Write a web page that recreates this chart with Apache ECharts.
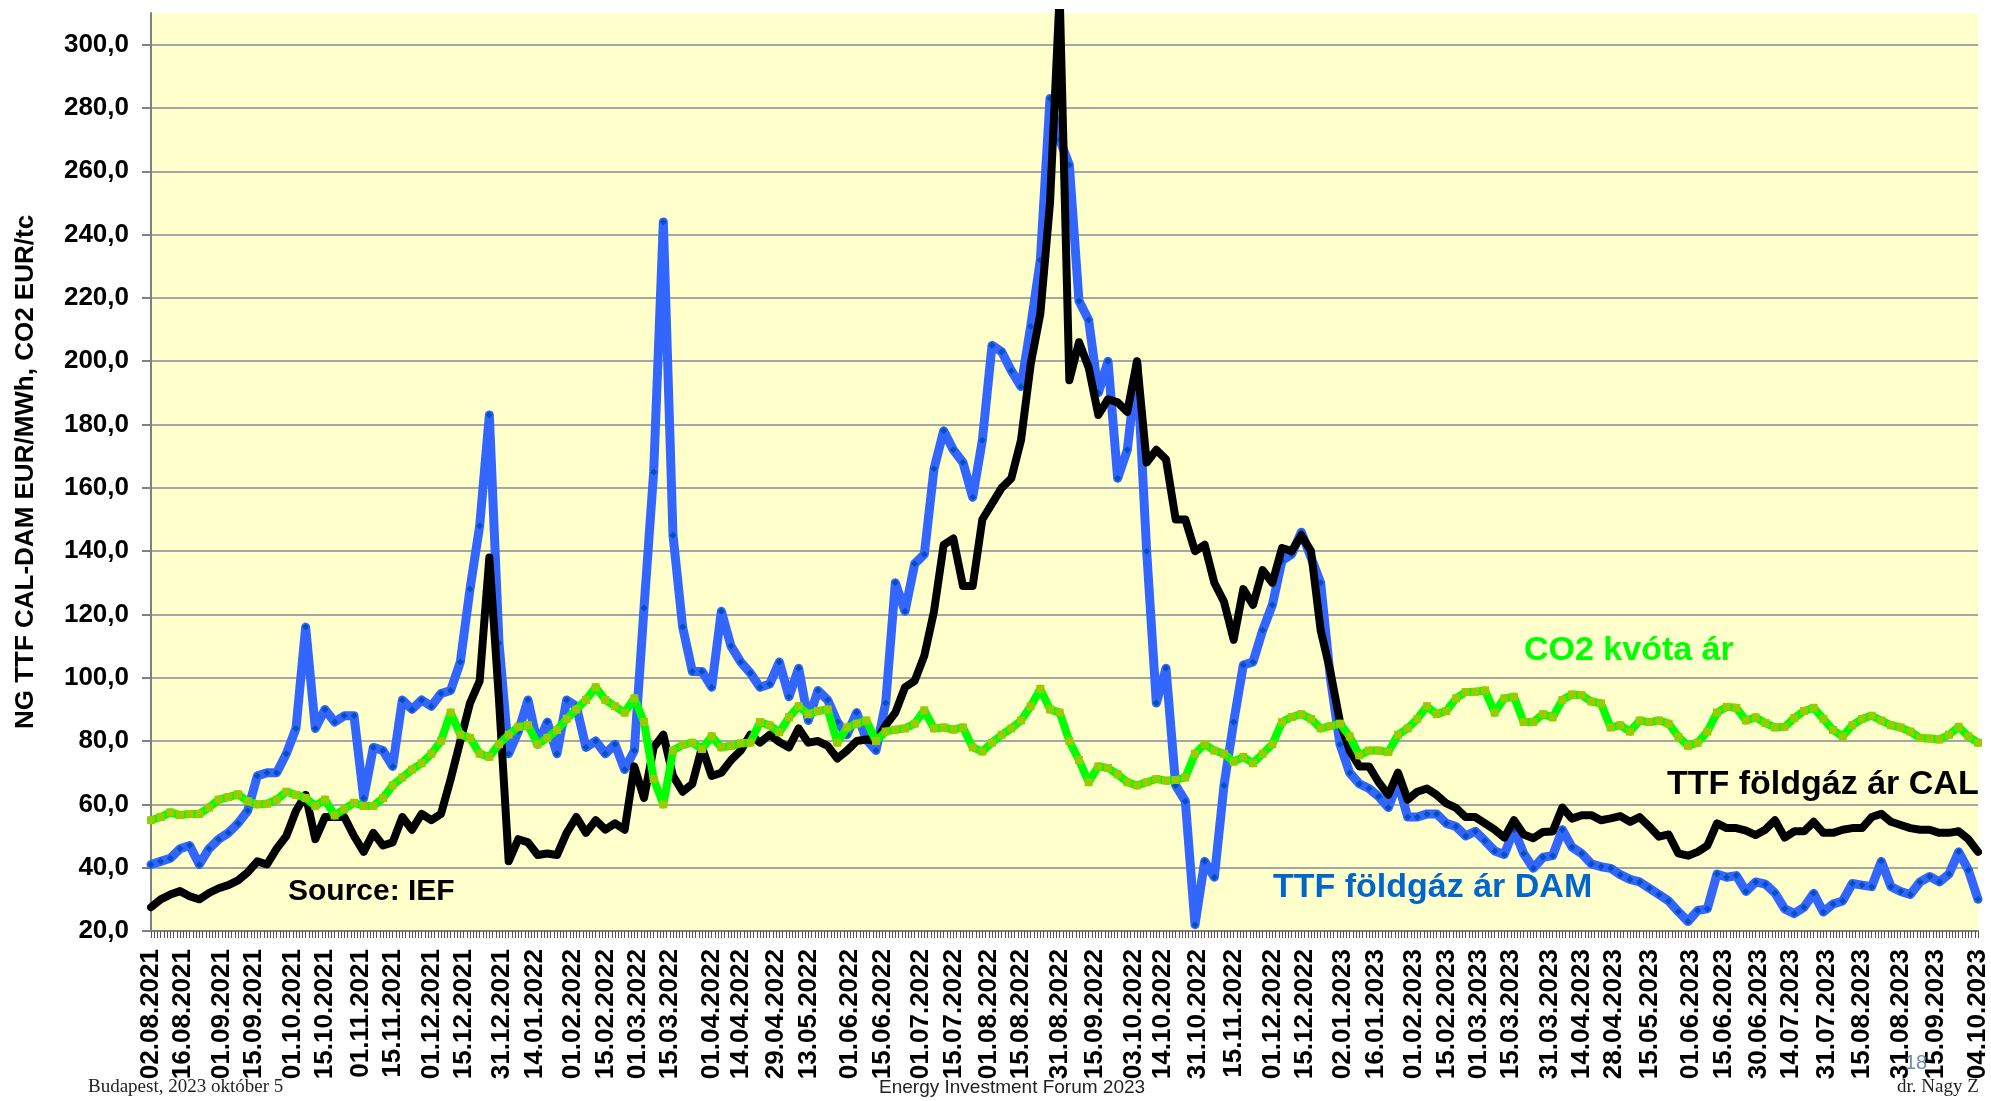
<!DOCTYPE html>
<html>
<head>
<meta charset="utf-8">
<title>TTF földgáz ár / CO2 kvóta ár</title>
<script src="https://cdn.jsdelivr.net/npm/echarts@6/dist/echarts.min.js"></script>
<style>
  html, body { margin: 0; padding: 0; background: #fff; }
  #chart { width: 1991px; height: 1101px; }
</style>
</head>
<body>
<div id="chart"></div>
<script>
// trading days 02.08.2021 .. 04.10.2023, values every 3rd trading day
const STEP = 3;
const firstDay = new Date(2021, 7, 2);
const lastDay = new Date(2023, 9, 4);

const tickLabels = [
  '02.08.2021', '16.08.2021', '01.09.2021', '15.09.2021', '01.10.2021', '15.10.2021',
  '01.11.2021', '15.11.2021', '01.12.2021', '15.12.2021', '31.12.2021', '14.01.2022',
  '01.02.2022', '15.02.2022', '01.03.2022', '15.03.2022', '01.04.2022', '14.04.2022',
  '29.04.2022', '13.05.2022', '01.06.2022', '15.06.2022', '01.07.2022', '15.07.2022',
  '01.08.2022', '15.08.2022', '31.08.2022', '15.09.2022', '03.10.2022', '14.10.2022',
  '31.10.2022', '15.11.2022', '01.12.2022', '15.12.2022', '02.01.2023', '16.01.2023',
  '01.02.2023', '15.02.2023', '01.03.2023', '15.03.2023', '31.03.2023', '14.04.2023',
  '28.04.2023', '15.05.2023', '01.06.2023', '15.06.2023', '30.06.2023', '14.07.2023',
  '31.07.2023', '15.08.2023', '31.08.2023', '15.09.2023', '04.10.2023'
];

// TTF day-ahead (DAM), EUR/MWh
const damValues = [
  41, 42, 43, 46, 47, 41, 46, 49, 51, 54,
  58, 69, 70, 70, 76, 84, 116, 84, 90, 86,
  88, 88, 62, 78, 77, 72, 93, 90, 93, 91,
  95, 96, 105, 128, 148, 183, 111, 76, 83, 93,
  79, 86, 76, 93, 91, 78, 80, 76, 79, 71,
  77, 122, 165, 244, 145, 116, 102, 102, 97, 121,
  110, 105, 101.5, 97, 98, 105, 94, 103, 86.5, 96,
  93, 86, 82, 89, 80.5, 77, 92, 130, 121, 136,
  139, 166, 178, 172, 168, 157, 175, 205, 203, 197,
  192, 211, 232, 283, 270, 262, 219, 213, 190, 200,
  163, 172, 199, 140, 92, 103, 66, 61, 22, 42,
  37, 66, 86, 104, 105, 115, 123, 137, 139, 146,
  138, 130, 100, 79, 70, 66.5, 65, 62.5, 59, 67,
  56, 56, 57, 57, 54, 53, 50, 51.5, 48.5, 45.3,
  44.2, 52, 44.5, 39.8, 43.3, 43.8, 52, 46.5, 44.5, 41.2,
  40.3, 39.8, 37.8, 36.3, 35.5, 33.5, 31.5, 29.5, 26.1, 23,
  26.5, 27, 38, 37, 37.5, 32.5, 35.5, 34.8, 32, 27,
  25.5, 27.5, 31.9, 26, 28.5, 29.5, 35, 34.5, 34, 42,
  34, 32.5, 31.5, 35.5, 37.2, 35.5, 38, 45, 39.3, 30
];

// TTF calendar (CAL), EUR/MWh
const calValues = [
  27.5, 30, 31.5, 32.6, 31, 30, 32, 33.5, 34.5, 36,
  38.5, 42, 41, 46, 50, 58, 63, 49, 56, 56,
  56, 50, 45, 51, 47, 48, 56, 52, 57, 55,
  57, 68, 80, 92, 99, 138, 93, 42, 49, 48,
  44, 44.5, 44, 51, 56, 51, 55, 52, 54, 52,
  72, 62, 78, 82, 69, 64, 66.5, 78, 69, 70,
  74, 77, 82, 79.5, 82, 79.7, 78, 84, 79.5, 80,
  78.5, 74.5, 77, 80, 80.5, 80, 85, 89, 97, 99,
  107, 121, 142, 144, 129, 129, 150, 155, 160, 163,
  175, 199, 215, 250, 316, 194, 206, 198, 183, 188,
  187, 184, 200, 168, 172, 169, 150, 150, 140, 142,
  130, 124, 112, 128, 123, 134, 130, 141, 140, 145,
  140, 115, 102, 86, 77, 72, 72, 67, 63, 70,
  61.5, 64, 65, 63, 60.3, 58.9, 56, 56, 54, 52,
  49.5, 55, 50.5, 49.3, 51.3, 51.4, 59, 55.5, 56.6, 56.6,
  55, 55.6, 56.3, 54.5, 56, 53, 49.8, 50.5, 44.5, 43.8,
  45, 47, 54, 52.5, 52.5, 51.7, 50.3, 52, 55, 49.5,
  51.5, 51.5, 54.5, 51, 51, 52, 52.5, 52.5, 56, 57,
  54.5, 53.5, 52.5, 52, 52, 51, 51, 51.5, 49, 45
];

// CO2 allowance, EUR/t
const co2Values = [
  55, 56, 57.5, 56.6, 57, 57, 59, 61.5, 62.3, 63.2,
  61, 60, 60.2, 61.5, 64, 63, 62, 59.5, 61.5, 56.5,
  58.5, 60.5, 59.5, 59.5, 62, 66, 68.5, 71, 73, 76,
  80, 89, 82, 81, 76, 75, 79, 82, 84.5, 85,
  79, 81, 83.5, 87, 90, 93, 97, 93, 91, 89,
  93.5, 86, 68, 60, 77, 78.8, 79.5, 77.5, 81.5, 78,
  78.5, 79.3, 79.5, 86, 85, 82.8, 87.5, 91, 88.5, 89.5,
  90, 79.5, 84.3, 85.5, 86.5, 80, 83, 83.6, 84, 85.5,
  89.7, 84, 84.3, 83.6, 84.3, 78, 76.7, 79.5, 82, 84,
  86.5, 91, 96.5, 90, 89, 80, 74, 67, 72, 71.5,
  69.5, 67, 66, 67, 68, 67.5, 67.7, 68.5, 76, 79,
  77, 76, 73.5, 75, 73, 76, 79, 86, 87.6, 88.5,
  87, 84, 84.7, 85.5, 81.5, 75.5, 77, 77, 76.5, 82,
  84, 87, 91, 88.5, 89.5, 93.5, 95.5, 95.6, 96, 89,
  93.5, 94, 86, 86, 88.5, 87.5, 93, 94.7, 94.5, 92.5,
  91.9, 84.3, 85, 83, 86.5, 86, 86.5, 85.5, 81.4, 78.5,
  79.5, 83, 89, 90.8, 90.5, 86.5, 87.5, 85.7, 84.3, 84.5,
  87.3, 89.5, 90.5, 87, 83.5, 81.5, 85, 87, 88, 86.5,
  85, 84.3, 83, 81, 80.8, 80.5, 82, 84.5, 81.5, 79.5
];

const SANS = '"Liberation Sans", Arial, sans-serif';
const SERIF = '"Liberation Serif", "Times New Roman", serif';

const pad = n => (n < 10 ? '0' : '') + n;
const tradingDays = [];
for (let d = new Date(firstDay); d <= lastDay; d.setDate(d.getDate() + 1)) {
  const wd = d.getDay();
  if (wd === 0 || wd === 6) continue;
  tradingDays.push(pad(d.getDate()) + '.' + pad(d.getMonth() + 1) + '.' + d.getFullYear());
}
const labelSet = new Set(tickLabels);
const toSeries = vals => vals.map((v, i) => [tradingDays[i * STEP], v]);

const chart = echarts.init(document.getElementById('chart'));
chart.setOption({
  animation: false,
  backgroundColor: '#ffffff',
  grid: {
    left: 151, top: 13, right: 8, bottom: 170,
    show: true, backgroundColor: '#FFFFCC', borderWidth: 0
  },
  xAxis: {
    type: 'category',
    data: tradingDays,
    boundaryGap: false,
    axisLine: { lineStyle: { color: '#808080', width: 2 } },
    axisTick: { interval: 0, length: 7, lineStyle: { color: '#555555', width: 1 } },
    axisLabel: {
      interval: (idx, val) => labelSet.has(val),
      rotate: 90,
      margin: 18,
      fontSize: 26,
      fontWeight: 'bold',
      fontFamily: SANS,
      color: '#000'
    },
    splitLine: { show: false }
  },
  yAxis: {
    type: 'value',
    min: 20,
    max: 310,
    interval: 20,
    name: 'NG TTF CAL-DAM EUR/MWh, CO2 EUR/tc',
    nameLocation: 'middle',
    nameGap: 112,
    nameTextStyle: { fontSize: 26, fontWeight: 'bold', fontFamily: SANS, color: '#000' },
    axisLine: { show: true, lineStyle: { color: '#808080', width: 2 } },
    axisTick: { show: true, length: 9, lineStyle: { color: '#808080', width: 2 } },
    axisLabel: {
      margin: 22,
      fontSize: 26,
      fontWeight: 'bold',
      fontFamily: SANS,
      color: '#000',
      showMaxLabel: false,
      formatter: v => (v > 300 ? '' : v.toFixed(1).replace('.', ','))
    },
    splitLine: {
      show: true, showMinLine: false, showMaxLine: false,
      lineStyle: { color: '#A6A6A6', width: 2 }
    }
  },
  series: [
    {
      name: 'TTF földgáz ár DAM',
      type: 'line',
      data: toSeries(damValues),
      symbol: 'diamond',
      symbolSize: 7,
      showSymbol: true,
      showAllSymbol: true,
      itemStyle: { color: '#0050C0', borderWidth: 0 },
      lineStyle: { color: '#3366FF', width: 9, join: 'round', cap: 'round' },
      z: 2
    },
    {
      name: 'TTF földgáz ár CAL',
      type: 'line',
      data: toSeries(calValues),
      symbol: 'none',
      showSymbol: false,
      lineStyle: { color: '#000000', width: 8, join: 'round', cap: 'round' },
      z: 3
    },
    {
      name: 'CO2 kvóta ár',
      type: 'line',
      data: toSeries(co2Values),
      symbol: 'rect',
      symbolSize: 8,
      showSymbol: true,
      showAllSymbol: true,
      itemStyle: { color: '#99CC00', borderWidth: 0 },
      lineStyle: { color: '#00FF00', width: 8, join: 'round', cap: 'round' },
      z: 4
    }
  ],
  graphic: [
    { type: 'text', left: 1524, top: 634, z: 10,
      style: { text: 'CO2 kvóta ár', font: 'bold 34px ' + SANS, fill: '#00FF00' } },
    { type: 'text', left: 1667, top: 768, z: 10,
      style: { text: 'TTF földgáz ár CAL', font: 'bold 34px ' + SANS, fill: '#000000' } },
    { type: 'text', left: 1273, top: 871, z: 10,
      style: { text: 'TTF földgáz ár DAM', font: 'bold 34px ' + SANS, fill: '#0066CC' } },
    { type: 'text', left: 288, top: 877, z: 10,
      style: { text: 'Source: IEF', font: 'bold 30px ' + SANS, fill: '#000000' } },
    { type: 'text', left: 88, top: 1078,
      style: { text: 'Budapest, 2023 október 5', font: '19px ' + SERIF, fill: '#222222' } },
    { type: 'text', left: 879, top: 1078,
      style: { text: 'Energy Investment Forum 2023', font: '19px ' + SANS, fill: '#222222' } },
    { type: 'text', left: 1897, top: 1078,
      style: { text: 'dr. Nagy Z', font: '19px ' + SERIF, fill: '#222222' } },
    { type: 'text', left: 1905, top: 1053, z: 10,
      style: { text: '18', font: '20px ' + SANS, fill: '#6A8CAF' } }
  ]
});
</script>
</body>
</html>
